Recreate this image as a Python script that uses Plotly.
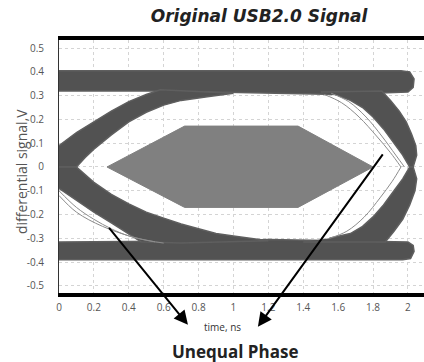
import plotly.graph_objects as go

# ---- eye-diagram outline data (time in ns, differential signal in V) ----
# logic-high band
high_t = [0.0, 1.96, 2.01, 2.035, 2.03, 2.0, 1.6, 1.3, 1.0, 0.6, 0.0]
high_v = [0.405, 0.405, 0.40, 0.37, 0.335, 0.315, 0.305, 0.31, 0.315, 0.32, 0.32]

# logic-low band
low_t = [0.0, 1.97, 2.015, 2.035, 2.03, 2.0, 1.6, 1.2, 1.0, 0.0]
low_v = [-0.39, -0.39, -0.385, -0.355, -0.33, -0.315, -0.31, -0.305, -0.31, -0.315]

# rising edge leaving the left crossing (outer edge, then inner edge back)
rise_l_t = [0.0, 0.1, 0.2, 0.3, 0.4, 0.5, 0.58, 0.75, 1.0, 0.85, 0.7, 0.6, 0.5, 0.4, 0.3, 0.2, 0.15, 0.1, 0.0]
rise_l_v = [0.09, 0.145, 0.19, 0.235, 0.275, 0.305, 0.325, 0.32, 0.31, 0.295, 0.28, 0.26, 0.23, 0.19, 0.135, 0.075, 0.04, 0.0, 0.0]

# falling edge leaving the left crossing
fall_l_t = [0.0, 0.1, 0.2, 0.3, 0.4, 0.47, 0.7, 1.2, 1.0, 0.9, 0.8, 0.7, 0.6, 0.5, 0.4, 0.3, 0.2, 0.1, 0.0]
fall_l_v = [-0.09, -0.14, -0.19, -0.235, -0.28, -0.315, -0.32, -0.31, -0.29, -0.28, -0.26, -0.24, -0.215, -0.19, -0.155, -0.115, -0.065, 0.0, 0.0]

# falling edge entering the right crossing
fall_r_t = [1.5, 1.85, 1.90, 1.95, 1.99, 2.02, 2.045, 2.05, 2.03, 2.01, 1.97, 1.92, 1.86, 1.80, 1.74, 1.67, 1.6]
fall_r_v = [0.315, 0.32, 0.28, 0.235, 0.19, 0.14, 0.09, 0.05, 0.0, 0.0, 0.05, 0.10, 0.16, 0.21, 0.25, 0.28, 0.30]

# rising edge entering the right crossing
rise_r_t = [1.4, 1.87, 1.92, 1.97, 2.01, 2.04, 2.05, 2.03, 2.01, 1.97, 1.92, 1.86, 1.80, 1.74, 1.67, 1.55]
rise_r_v = [-0.315, -0.315, -0.27, -0.22, -0.16, -0.10, -0.05, 0.0, 0.0, -0.05, -0.10, -0.16, -0.21, -0.25, -0.28, -0.30]

# sparse outlier traces
stray = [
    ([0.0, 0.1, 0.2, 0.3, 0.4, 0.55], [-0.10, -0.17, -0.22, -0.26, -0.29, -0.315]),
    ([0.0, 0.1, 0.25, 0.45, 0.6], [-0.12, -0.19, -0.25, -0.30, -0.32]),
    ([1.52, 1.62, 1.72, 1.82, 1.90, 1.96], [0.305, 0.27, 0.21, 0.13, 0.06, 0.0]),
    ([1.56, 1.66, 1.76, 1.85, 1.93, 1.98], [0.31, 0.275, 0.21, 0.13, 0.05, 0.0]),
    ([1.55, 1.65, 1.75, 1.84, 1.91, 1.96], [-0.30, -0.27, -0.21, -0.13, -0.06, 0.0]),
]

# eye mask hexagon
mask_t = [0.275, 0.72, 1.37, 1.80, 1.37, 0.72, 0.275]
mask_v = [0.0, 0.172, 0.172, 0.0, -0.17, -0.17, 0.0]

# axis ticks
x_ticks = [0, 0.2, 0.4, 0.6, 0.8, 1, 1.2, 1.4, 1.6, 1.8, 2]
x_tick_text = ["0", "0.2", "0.4", "0.6", "0.8", "1", "1.2", "1.4", "1.6", "1.8", "2"]
y_ticks = [0.5, 0.4, 0.3, 0.2, 0.1, 0, -0.1, -0.2, -0.3, -0.4, -0.5]
y_tick_text = ["0.5", "0.4", "0.3", "0.2", "0.1", "0", "-0.1", "-0.2", "-0.3", "-0.4", "-0.5"]

# arrows: tail in the eye, head below the axis
arrow_tail_t = [0.28, 1.862]
arrow_tail_v = [-0.25, 0.059]
arrow_head_t = [0.739, 1.14]
arrow_head_v = [-0.664, -0.672]

BAND = "rgb(82,82,82)"

fig = go.Figure()

for t, v in [(high_t, high_v), (low_t, low_v), (rise_l_t, rise_l_v),
             (fall_l_t, fall_l_v), (fall_r_t, fall_r_v), (rise_r_t, rise_r_v)]:
    fig.add_trace(go.Scatter(
        x=t, y=v, mode="lines", fill="toself", fillcolor=BAND,
        line=dict(color="rgb(95,95,95)", width=1.5),
        hoverinfo="skip", showlegend=False))

for t, v in stray:
    fig.add_trace(go.Scatter(
        x=t, y=v, mode="lines",
        line=dict(color="rgb(140,140,140)", width=1, shape="spline"),
        hoverinfo="skip", showlegend=False))

fig.add_trace(go.Scatter(
    x=mask_t, y=mask_v, mode="lines", fill="toself",
    fillcolor="rgb(128,128,128)", line=dict(color="rgb(128,128,128)", width=1),
    hoverinfo="skip", showlegend=False))

for tt, tv, ht, hv in zip(arrow_tail_t, arrow_tail_v, arrow_head_t, arrow_head_v):
    fig.add_annotation(
        x=ht, y=hv, xref="x", yref="y",
        ax=tt, ay=tv, axref="x", ayref="y",
        showarrow=True, arrowhead=2, arrowsize=1.4, arrowwidth=2,
        arrowcolor="black", text="")

fig.add_annotation(x=0.447, y=-0.134, xref="paper", yref="paper",
                   xanchor="center", yanchor="middle",
                   text="time, ns", showarrow=False,
                   font=dict(family="Open Sans", size=10, color="#333"))
fig.add_annotation(x=0.482, y=-0.233, xref="paper", yref="paper",
                   xanchor="center", yanchor="middle",
                   text="<b>Unequal Phase</b>", showarrow=False,
                   font=dict(family="Open Sans", size=17, color="#222"))
fig.add_annotation(x=-0.104, y=0.478, xref="paper", yref="paper",
                   xanchor="center", yanchor="middle",
                   text="differential signal,V", textangle=-90, showarrow=False,
                   font=dict(family="Open Sans", size=14, color="#555"))

fig.update_layout(
    width=424, height=362,
    margin=dict(l=59, r=0, t=40, b=69),
    paper_bgcolor="white", plot_bgcolor="white",
    title=dict(text="<b><i>Original USB2.0 Signal</i></b>",
               x=0.611, y=0.956, xanchor="center", yanchor="middle",
               font=dict(family="DejaVu Sans", size=17, color="#222")),
    xaxis=dict(range=[0, 2.092], tickvals=x_ticks, ticktext=x_tick_text,
               showline=True, linecolor="black", linewidth=4, mirror=True,
               showgrid=True, gridcolor="#d4d4d4", griddash="dot", gridwidth=1,
               zeroline=False, ticks="", ticklabelstandoff=2,
               tickfont=dict(family="Open Sans", size=10, color="#555")),
    yaxis=dict(range=[-0.53, 0.534], tickvals=y_ticks, ticktext=y_tick_text,
               showline=True, linecolor="#333", linewidth=1,
               showgrid=True, gridcolor="#d4d4d4", griddash="dot", gridwidth=1,
               zeroline=False, ticks="", ticklabelstandoff=12,
               tickfont=dict(family="Open Sans", size=10, color="#555")),
)

fig.write_html("out.html")
